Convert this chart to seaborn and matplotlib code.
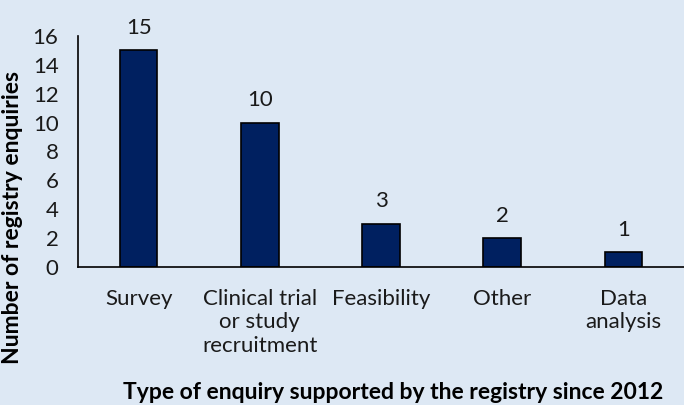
import matplotlib
matplotlib.use("Agg")
import matplotlib.pyplot as plt
import seaborn as sns
import pandas as pd

categories = ["Survey", "Clinical trial\nor study\nrecruitment", "Feasibility", "Other", "Data\nanalysis"]
values = [15, 10, 3, 2, 1]
yticks = [0, 2, 4, 6, 8, 10, 12, 14, 16]

sns.set_style("white")
plt.rcParams['font.family'] = ['Lato', 'DejaVu Sans']

bg = "#dde8f4"
fig = plt.figure(figsize=(6.84, 4.05), dpi=100, facecolor=bg)
ax = fig.add_axes([0.114, 0.341, 0.886, 0.570])
ax.set_facecolor(bg)

df = pd.DataFrame({"cat": categories, "val": values})
sns.barplot(data=df, x="cat", y="val", ax=ax, color="#002060", width=0.31,
            edgecolor="black", linewidth=1.2, saturation=1)

for i, v in enumerate(values):
    ax.annotate(str(v), (i, v), xytext=(0, 9), textcoords="offset points",
                ha="center", va="bottom", fontsize=16, color="#1a1a1a")

ax.set_ylim(0, 16)
ax.set_xlim(-0.5, 4.5)
ax.set_yticks(yticks)
ax.set_yticklabels([str(t) for t in yticks], fontsize=16, color="#1a1a1a")
ax.tick_params(axis='y', length=0, pad=14)
ax.tick_params(axis='x', length=0, pad=16, labelsize=16, labelcolor="#1a1a1a")
for lbl in ax.get_xticklabels():
    lbl.set_multialignment("center")
    lbl.set_linespacing(1.2)
ax.set_xlabel("")
ax.set_ylabel("")
for s in ["top", "right"]:
    ax.spines[s].set_visible(False)
for s in ["left", "bottom"]:
    ax.spines[s].set_color("black")
    ax.spines[s].set_linewidth(1.2)

fig.text(0.575, 0.032, "Type of enquiry supported by the registry since 2012",
         ha="center", va="center", fontsize=16.5, fontweight="bold", color="black")
fig.text(0.018, 0.464, "Number of registry enquiries", rotation=90,
         ha="center", va="center", fontsize=16.5, fontweight="bold", color="black")

fig.savefig("out.png", dpi=100, facecolor=bg)
